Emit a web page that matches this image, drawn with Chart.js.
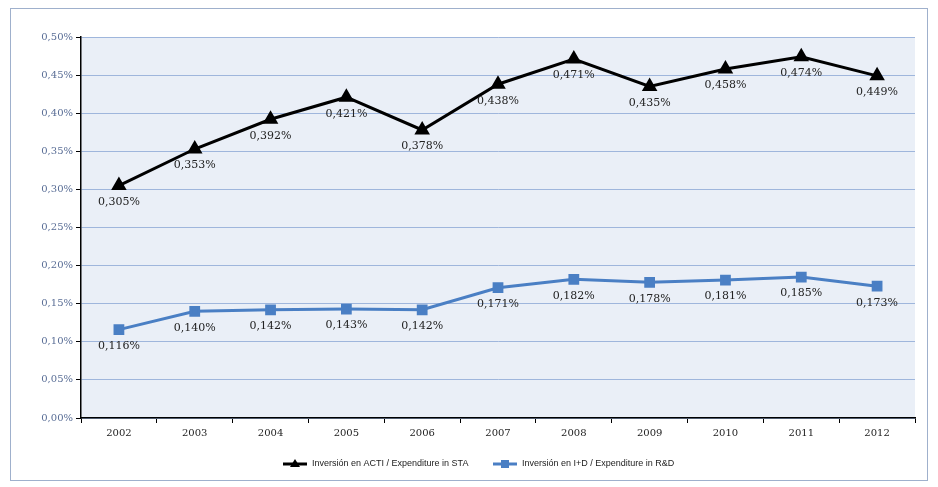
<!DOCTYPE html>
<html><head><meta charset="utf-8">
<script src="https://cdn.jsdelivr.net/npm/chart.js@4"></script>
<style>html,body{margin:0;padding:0;background:#fff}#c{display:block}</style>
</head><body>
<div style="width:938px;height:487px"><canvas id="c" width="938" height="487"></canvas></div>
<script>
const years = ['2002','2003','2004','2005','2006','2007','2008','2009','2010','2011','2012'];
const acti = [0.305,0.353,0.392,0.421,0.378,0.438,0.471,0.435,0.458,0.474,0.449];
const rd = [0.116,0.140,0.142,0.143,0.142,0.171,0.182,0.178,0.181,0.185,0.173];
const seriesNames = ['Inversión en ACTI / Expenditure in STA','Inversión en I+D / Expenditure in R&D'];
const fmt = v => v.toFixed(3).replace('.', ',') + '%';

const deco = {
  id:'deco',
  beforeDraw(chart){
    const {ctx, chartArea:a} = chart;
    ctx.save();
    ctx.fillStyle='#eaeff7';
    ctx.fillRect(a.left,a.top,a.right-a.left,a.bottom-a.top);
    ctx.strokeStyle='#9fb0cc'; ctx.lineWidth=1;
    ctx.strokeRect(10.5,8.5,917,472);
    ctx.restore();
  },
  afterDatasetsDraw(chart){
    const ctx=chart.ctx;
    ctx.save();
    ctx.font='11px "DejaVu Serif", serif';
    ctx.fillStyle='#222'; ctx.textAlign='center'; ctx.textBaseline='top';
    chart.data.datasets.forEach((ds,i)=>{
      chart.getDatasetMeta(i).data.forEach((p,j)=>{
        ctx.fillText(fmt(ds.data[j]), p.x, p.y+11);
      });
    });
    const items=[{x:283,c:'#000',s:'triangle'},{x:493,c:'#4a7fc4',s:'rect'}];
    ctx.font='9px "Liberation Sans Narrow", "Liberation Sans", sans-serif';
    ctx.textAlign='left'; ctx.textBaseline='middle';
    const y=464;
    items.forEach((it,i)=>{
      ctx.strokeStyle=it.c; ctx.fillStyle=it.c; ctx.lineWidth=3;
      ctx.beginPath(); ctx.moveTo(it.x,y); ctx.lineTo(it.x+24,y); ctx.stroke();
      const cx=it.x+12;
      ctx.beginPath();
      if(it.s==='triangle'){ctx.moveTo(cx,y-5);ctx.lineTo(cx+5,y+3);ctx.lineTo(cx-5,y+3);ctx.closePath();}
      else ctx.rect(cx-4,y-4,8,8);
      ctx.fill();
      ctx.fillStyle='#222';
      ctx.fillText(seriesNames[i], it.x+29, y);
    });
    ctx.restore();
  }
};

new Chart(document.getElementById('c'),{
  type:'line',
  data:{labels:years,datasets:[
    {label:seriesNames[0],data:acti,borderColor:'#000',backgroundColor:'#000',borderWidth:3,pointStyle:'triangle',pointRadius:6,pointHoverRadius:6,tension:0},
    {label:seriesNames[1],data:rd,borderColor:'#4a7fc4',backgroundColor:'#4a7fc4',borderWidth:3,pointStyle:'rect',pointRadius:5.5,pointHoverRadius:5.5,tension:0}
  ]},
  options:{
    responsive:false,animation:false,
    layout:{padding:{left:20,right:23,top:37,bottom:0}},
    plugins:{legend:{display:false},tooltip:{enabled:false}},
    scales:{
      x:{offset:true,
        grid:{display:true,drawOnChartArea:false,drawTicks:true,tickLength:5,color:'#000',offset:true},
        border:{color:'#000',width:1.5},
        ticks:{color:'#222',font:{family:'"DejaVu Serif", serif',size:10},padding:4},
        afterFit(s){s.height=69;}},
      y:{min:0,max:0.5,
        grid:{color:'#9fb6dc',lineWidth:1,tickLength:5,tickColor:'#000'},
        border:{color:'#000',width:1.5},
        ticks:{stepSize:0.05,color:'#5a6e96',font:{family:'"DejaVu Serif", serif',size:10},padding:3,
          callback:v=>v.toFixed(2).replace('.',',')+'%'},
        afterFit(s){s.width=61;}}
    }
  },
  plugins:[deco]
});
</script>
</body></html>
